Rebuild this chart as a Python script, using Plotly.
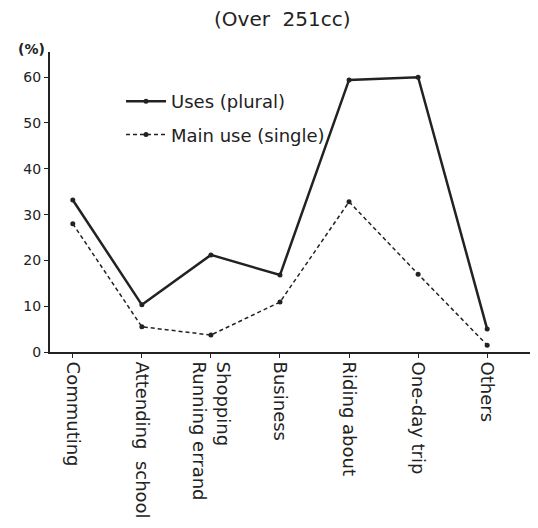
import plotly.graph_objects as go

categories = ["Commuting", "Attending  school", "Shopping<br>Running errand", "Business",
              "Riding about", "One-day trip", "Others"]
uses_plural = [33.2, 10.3, 21.2, 16.8, 59.4, 60.0, 5.0]
main_use_single = [28.0, 5.5, 3.7, 10.9, 32.8, 17.0, 1.5]
y_ticks = [0, 10, 20, 30, 40, 50, 60]

xpos = list(range(len(categories)))
FONT = "DejaVu Sans, sans-serif"
INK = "#222222"

# page body has an 8px margin; screen coords = figure coords + 8
OFF = 8
W, H = 538, 528
L = 50 - OFF
T = 52 - OFF
B = H - (352 - OFF)
R = W - (530 - OFF)
PW, PH = W - L - R, H - T - B


def px_x(x):
    return (x - OFF - L) / PW


def px_y(y):
    return (H - B - (y - OFF)) / PH


fig = go.Figure()
fig.add_trace(go.Scatter(x=xpos, y=uses_plural, mode="lines+markers", name="Uses (plural)",
                         legendgroup="a",
                         line=dict(color=INK, width=2.5), marker=dict(size=5, color=INK)))
fig.add_trace(go.Scatter(x=xpos, y=main_use_single, mode="lines+markers", name="Main use (single)",
                         legendgroup="b",
                         line=dict(color=INK, width=1.5, dash="4px,3px"), marker=dict(size=5, color=INK)))

fig.update_layout(
    width=W, height=H,
    margin=dict(l=L, r=R, t=T, b=B),
    paper_bgcolor="white", plot_bgcolor="white",
    font=dict(family=FONT, color=INK),
    showlegend=True,
    legend=dict(x=px_x(121), y=px_y(83), xanchor="left", yanchor="top", bgcolor="rgba(0,0,0,0)",
                font=dict(size=18, family=FONT, color=INK), itemwidth=40, tracegroupgap=7),
    xaxis=dict(range=[-0.33, 6.62], tickmode="array", tickvals=xpos, ticktext=categories,
               tickangle=90, ticks="outside", ticklen=4, tickcolor=INK, showgrid=False,
               zeroline=False, showline=True, linecolor=INK, linewidth=2, automargin=False,
               tickfont=dict(size=18, family=FONT, color=INK)),
    yaxis=dict(range=[0, 65.5], tickmode="array", tickvals=y_ticks, ticks="outside",
               ticklen=4, tickcolor=INK, showgrid=False, zeroline=False, showline=True,
               linecolor=INK, linewidth=2, automargin=False,
               tickfont=dict(size=14, family=FONT, color=INK)),
    annotations=[
        dict(text="(Over  251cc)", x=px_x(282), y=px_y(19), xref="paper", yref="paper",
             xanchor="center", yanchor="middle", showarrow=False,
             font=dict(size=20, family=FONT, color=INK)),
        dict(text="<b>(%)</b>", x=px_x(31), y=px_y(49), xref="paper", yref="paper",
             xanchor="center", yanchor="middle", showarrow=False,
             font=dict(size=14, family=FONT, color=INK)),
    ],
)
fig.update_yaxes(tickprefix="<b>", ticksuffix="</b>")
fig.write_html("out.html")
